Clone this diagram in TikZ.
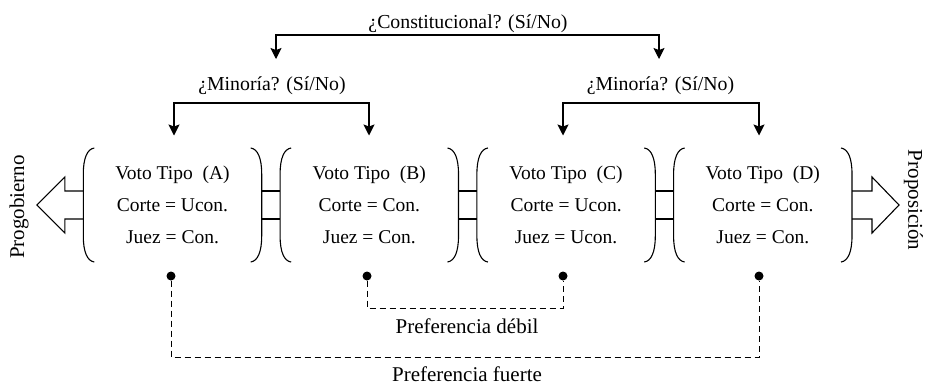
\documentclass[tikz,border=0pt]{standalone}
\usepackage{fontspec}
\setmainfont{Liberation Serif}
\usetikzlibrary{arrows.meta,calc}
\begin{document}
\begin{tikzpicture}[x=1pt,y=-1pt,
  every node/.style={inner sep=0pt, outer sep=0pt},
  lbl/.style={font=\fontsize{19.8}{22}\selectfont, anchor=base},
  plbl/.style={font=\fontsize{21}{22}\selectfont, anchor=base},
  side/.style={font=\fontsize{21}{22}\selectfont},
  boxtext/.style={font=\fontsize{19.5}{32}\selectfont, align=center,
                  minimum width=178.4pt, minimum height=114pt},
  conn/.style={line width=1.1pt},
  dtip/.style={line width=1.1pt,
     {Stealth[length=11pt,width=11pt,inset=2pt]}-{Stealth[length=11pt,width=11pt,inset=2pt]}},
  dot/.style={circle, fill, minimum size=9pt},
  pref/.style={line width=1pt, dash pattern=on 6pt off 4pt},
  hollow/.style={line width=1.1pt, line join=miter}
]
\useasboundingbox (0,0) rectangle (925,384);

% boxes
\node[boxtext] (A) at (172.5,205) {Voto Tipo~~(A)\\Corte = Ucon.\\Juez = Con.};
\node[boxtext] (B) at (369.3,205) {Voto Tipo~~(B)\\Corte = Con.\\Juez = Con.};
\node[boxtext] (C) at (566.1,205) {Voto Tipo~~(C)\\Corte = Ucon.\\Juez = Ucon.};
\node[boxtext] (D) at (762.8,205) {Voto Tipo~~(D)\\Corte = Con.\\Juez = Con.};

\foreach \n in {A,B,C,D} {
  \draw[conn] ($(\n.north west)+(11,0)$) .. controls ($(\n.north west)+(4,1)$) and ($(\n.north west)+(0,10)$) .. ($(\n.north west)+(0,26)$)
     -- ($(\n.south west)+(0,-26)$) .. controls ($(\n.south west)+(0,-10)$) and ($(\n.south west)+(4,-1)$) .. ($(\n.south west)+(11,0)$);
  \draw[conn] ($(\n.north east)+(-11,0)$) .. controls ($(\n.north east)+(-4,1)$) and ($(\n.north east)+(0,10)$) .. ($(\n.north east)+(0,26)$)
     -- ($(\n.south east)+(0,-26)$) .. controls ($(\n.south east)+(0,-10)$) and ($(\n.south east)+(-4,-1)$) .. ($(\n.south east)+(-11,0)$);
}

% links between boxes
\foreach \a/\b in {A/B,B/C,C/D} {
  \draw[conn] ($(\a.east)+(0,-14)$) -- ($(\b.west)+(0,-14)$);
  \draw[conn] ($(\a.east)+(0,14)$) -- ($(\b.west)+(0,14)$);
}

% hollow side arrows
\draw[hollow] ($(A.west)+(0,-14)$) -- ++(-18.5,0) -- ++(0,-14) -- ++(-28,28) -- ++(28,28) -- ++(0,-14) -- ++(18.5,0);
\draw[hollow] ($(D.east)+(0,-14)$) -- ++(20,0) -- ++(0,-14) -- ++(27,28) -- ++(-27,28) -- ++(0,-14) -- ++(-20,0);

\node[side, rotate=90] (pg) at (19,207) {Progobierno};
\node[side, rotate=-90] (pp) at (913.5,200) {Proposición};

% question labels
\node[lbl] (con) at (468,28) {¿Constitucional? (Sí/No)};
\node[lbl] (minL) at (272,90) {¿Minoría? (Sí/No)};
\node[lbl] (minR) at (660.5,90) {¿Minoría? (Sí/No)};

\coordinate (t1) at (276,59);
\coordinate (t2) at (659,59);
\coordinate (tm) at (467.5,35);
\draw[dtip] (t1) |- (tm) -| (t2);

\coordinate (a1) at (174,135.5);
\coordinate (a2) at (369,135.5);
\coordinate (a3) at (563,135.5);
\coordinate (a4) at (759,135.5);
\coordinate (mL) at (271.5,103);
\coordinate (mR) at (661,103);
\draw[dtip] (a1) |- (mL) -| (a2);
\draw[dtip] (a3) |- (mR) -| (a4);

% preference dots
\node[dot] (dA) at (171,276) {};
\node[dot] (dB) at (367,276) {};
\node[dot] (dC) at (563,276) {};
\node[dot] (dD) at (759,276) {};
\coordinate (wk) at (465,308);
\coordinate (st) at (465,357);
\draw[pref] (dB) |- (wk) -| (dC);
\draw[pref] (dA) |- (st) -| (dD);

\node[plbl] (pw) at (467,333) {Preferencia débil};
\node[plbl] (pf) at (467,381) {Preferencia fuerte};
\end{tikzpicture}
\end{document}
